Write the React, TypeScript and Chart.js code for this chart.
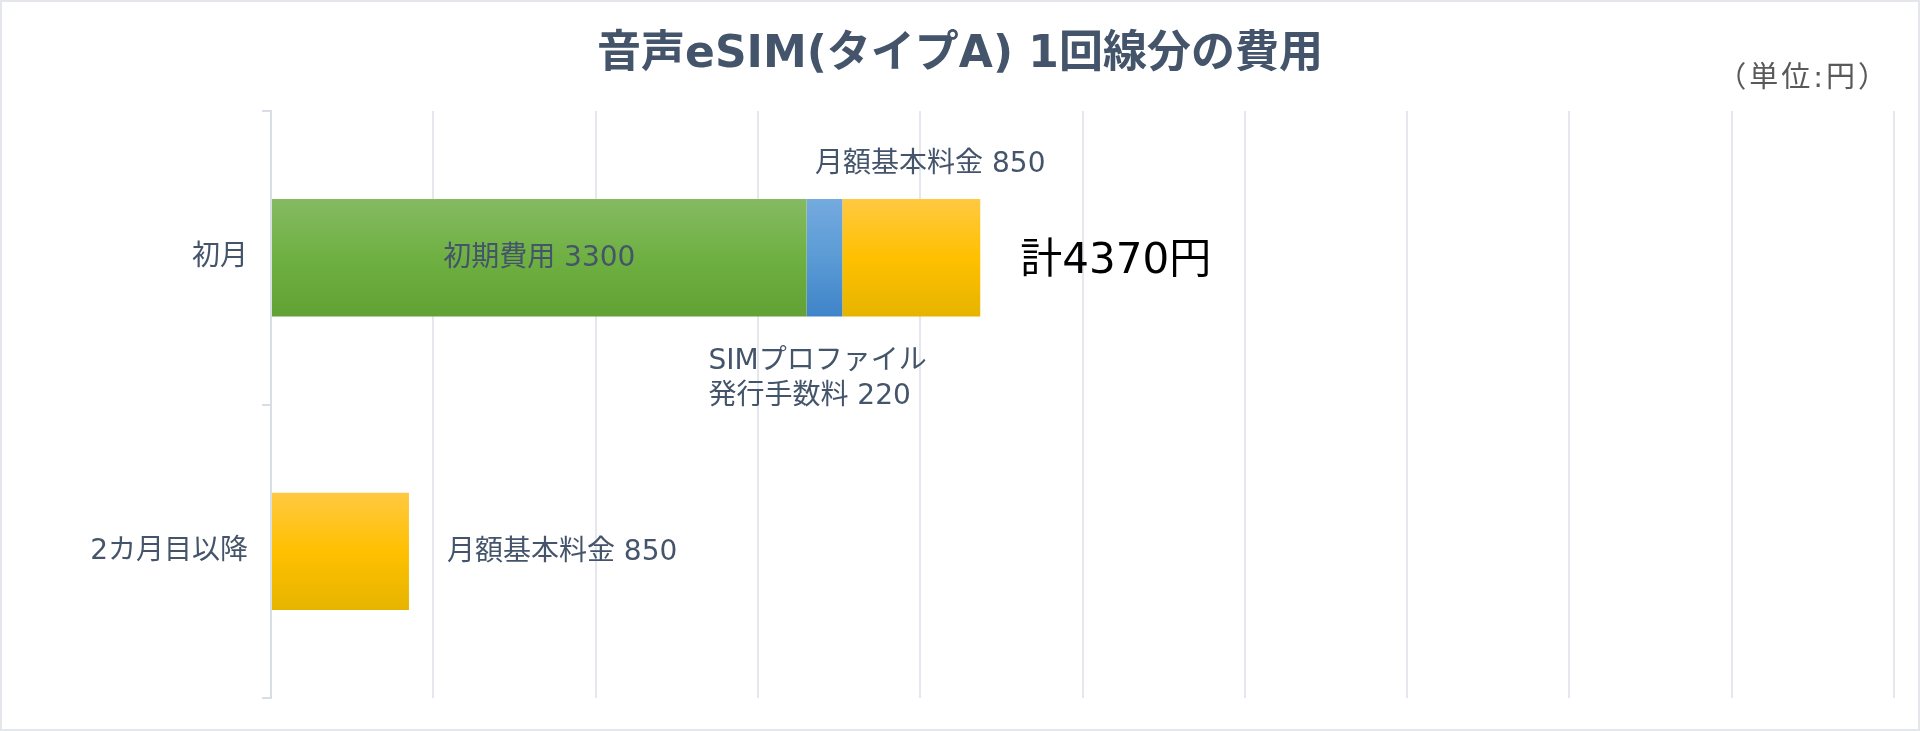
import { useEffect, useRef } from 'react'
import { Chart, registerables } from 'chart.js'

Chart.register(...registerables)

// chart data
const categories = ['初月', '2カ月目以降']
const seriesNames = ['初期費用', 'SIMプロファイル\n発行手数料', '月額基本料金']
const initialFee = [3300, null]
const simProfileFee = [220, null]
const monthlyFee = [850, 850]
const xMax = 10000
const xStep = 1000

const titleText = '音声eSIM(タイプA) 1回線分の費用'
const unitText = '（単位:円）'

const TEXT = '#44546a'
const FONT = '"DejaVu Sans", "Noto Sans CJK JP", sans-serif'

// vertical gradient for each bar, based on the y scale
const vGrad = (stops: string[]) => (c: any) => {
  const chart = c.chart
  const y = chart.scales?.y
  if (!chart.chartArea || !y) return stops[1]
  const center = y.getPixelForValue(c.dataIndex)
  const half = (y.height / categories.length) * 0.4 / 2
  const g = chart.ctx.createLinearGradient(0, center - half, 0, center + half)
  g.addColorStop(0, stops[0])
  g.addColorStop(0.5, stops[1])
  g.addColorStop(1, stops[2])
  return g
}

const placement = ['inside', 'below', 'above']

const segmentLabels = {
  id: 'segmentLabels',
  afterDatasetsDraw(chart: any) {
    const ctx = chart.ctx
    ctx.save()
    ctx.textBaseline = 'middle'
    const rowEnd: number[] = []
    const rowTotal: number[] = []
    chart.data.datasets.forEach((ds: any, di: number) => {
      const meta = chart.getDatasetMeta(di)
      meta.data.forEach((bar: any, i: number) => {
        const v = ds.data[i]
        if (v == null) return
        const { x, y, base, height } = bar.getProps(['x', 'y', 'base', 'height'], true)
        rowEnd[i] = Math.max(rowEnd[i] ?? 0, x)
        rowTotal[i] = (rowTotal[i] ?? 0) + v
        const alone = chart.data.datasets.filter((d: any) => d.data[i] != null).length === 1
        const lines = `${seriesNames[di]} ${v}`.split('\n')
        const mid = (x + base) / 2
        ctx.fillStyle = TEXT
        ctx.font = `28px ${FONT}`
        const where = alone ? 'right' : placement[di]
        if (where === 'right') {
          ctx.textAlign = 'left'
          ctx.fillText(lines.join(''), x + 38, y + 1)
        } else if (where === 'inside') {
          ctx.textAlign = 'center'
          ctx.fillText(lines.join(''), mid, y + 1)
        } else if (where === 'below') {
          ctx.textAlign = 'left'
          lines.forEach((t, k) => ctx.fillText(t, mid - 116, y + height / 2 + 45 + k * 35))
        } else {
          ctx.textAlign = 'center'
          ctx.fillText(lines.join(''), mid + 19, y - height / 2 - 34)
        }
      })
    })
    // total for the first row
    const yScale = chart.scales.y
    ctx.fillStyle = '#000'
    ctx.font = `42px ${FONT}`
    ctx.textAlign = 'left'
    ctx.fillText(`計${rowTotal[0]}円`, rowEnd[0] + 40, yScale.getPixelForValue(0) + 4)
    ctx.restore()
  },
  afterDraw(chart: any) {
    const ctx = chart.ctx
    const area = chart.chartArea
    ctx.save()
    ctx.textBaseline = 'middle'
    // title
    ctx.fillStyle = TEXT
    ctx.font = `bold 44px ${FONT}`
    ctx.textAlign = 'center'
    ctx.fillText(titleText, chart.width / 2, 54)
    // unit note
    ctx.fillStyle = '#595959'
    ctx.font = `29px ${FONT}`
    ctx.letterSpacing = '3px'
    ctx.textAlign = 'right'
    ctx.fillText(unitText, area.right - 4, area.top - 32)
    ctx.restore()
  },
}

export default function App() {
  const ref = useRef<HTMLCanvasElement | null>(null)

  useEffect(() => {
    document.body.style.margin = '0'
    const ctx = ref.current?.getContext('2d')
    if (!ctx) return
    const chart = new Chart(ctx, {
      type: 'bar',
      data: {
        labels: categories,
        datasets: [
          {
            label: seriesNames[0],
            data: initialFee,
            backgroundColor: vGrad(['#85ba62', '#6fb042', '#62a133']),
          },
          {
            label: seriesNames[1],
            data: simProfileFee,
            backgroundColor: vGrad(['#74aadf', '#5b9bd5', '#3f84c9']),
          },
          {
            label: seriesNames[2],
            data: monthlyFee,
            backgroundColor: vGrad(['#ffc942', '#ffc000', '#e6b400']),
          },
        ] as any,
      },
      options: {
        indexAxis: 'y',
        responsive: true,
        maintainAspectRatio: false,
        animation: false,
        devicePixelRatio: 1,
        layout: { padding: { top: 109, right: 24, bottom: 29, left: 0 } },
        datasets: { bar: { barPercentage: 0.8, categoryPercentage: 0.5 } },
        plugins: {
          legend: { display: false },
          tooltip: { enabled: false },
          title: { display: false },
        },
        scales: {
          x: {
            stacked: true,
            min: 0,
            max: xMax,
            ticks: { display: false, stepSize: xStep },
            border: { display: false },
            grid: { color: '#e4e8ee', lineWidth: 2, drawTicks: false },
          },
          y: {
            stacked: true,
            afterFit: (s: any) => {
              s.width = 269
            },
            ticks: { color: TEXT, font: { family: FONT, size: 28 }, padding: 14 },
            border: { display: true, color: '#d9dde5', width: 2 },
            grid: {
              offset: true,
              drawOnChartArea: false,
              drawTicks: true,
              tickLength: 9,
              color: '#d9dde5',
              lineWidth: 2,
            },
          },
        },
      },
      plugins: [segmentLabels],
    })
    return () => chart.destroy()
  }, [])

  return (
    <div
      style={{
        width: 1920,
        height: 731,
        boxSizing: 'border-box',
        border: '2px solid #e3e6eb',
        background: '#fff',
      }}
    >
      <div style={{ position: 'relative', width: 1916, height: 727 }}>
        <canvas ref={ref} />
      </div>
    </div>
  )
}
